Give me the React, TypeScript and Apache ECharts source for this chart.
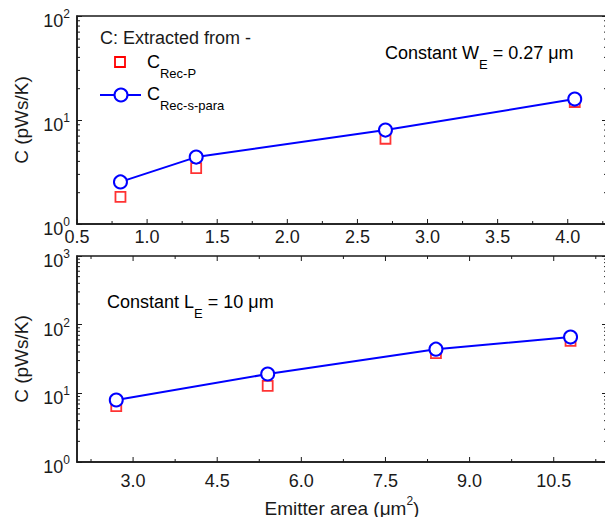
import React, { useEffect, useRef } from "react";
import * as echarts from "echarts";

// ---- data ----
const topArea = [0.81, 1.35, 2.7, 4.05];
const topRecP = [1.82, 3.45, 6.6, 14.9];
const topRecSPara = [2.54, 4.4, 8.0, 15.9];

const botArea = [2.7, 5.4, 8.4, 10.8];
const botRecP = [6.5, 12.8, 38.6, 58];
const botRecSPara = [8.0, 19.1, 44, 66];

// ---- tick values ----
const topXMajor = [0.5, 1.0, 1.5, 2.0, 2.5, 3.0, 3.5, 4.0];
const topXMinor = [0.75, 1.25, 1.75, 2.25, 2.75, 3.25, 3.75, 4.25];
const botXMajor = [3.0, 4.5, 6.0, 7.5, 9.0, 10.5];
const botXMinor = [2.25, 3.75, 5.25, 6.75, 8.25, 9.75, 11.25];
const topYMinor = [2, 3, 4, 5, 6, 7, 8, 9, 20, 30, 40, 50, 60, 70, 80, 90];
const botYMinor = [
  2, 3, 4, 5, 6, 7, 8, 9, 20, 30, 40, 50, 60, 70, 80, 90, 200, 300, 400, 500,
  600, 700, 800, 900,
];

const FONT = "'Liberation Sans', Arial, sans-serif";
const INK = "#1a1a1a";
const RED = "#ff0000";
const BLUE = "#0000ff";

const topX = { min: 0.5, max: 4.28 };
const botX = { min: 2.0, max: 11.45 };

const LBL = 18;
const TXT = 18;

const supLabel = (v: number) => `{b|10}{s|${Math.round(Math.log10(v))}}`;
const supRich = {
  b: { fontSize: LBL, fontFamily: FONT, color: INK, lineHeight: 16, padding: [4, 0, 0, 0], verticalAlign: "top" },
  s: { fontSize: 12, fontFamily: FONT, color: INK, lineHeight: 12, verticalAlign: "top" },
};
const subRich = {
  b: { fontSize: TXT, fontFamily: FONT, color: INK, lineHeight: 20, padding: [2, 0, 0, 0], verticalAlign: "top" },
  sub: { fontSize: 13, fontFamily: FONT, color: INK, lineHeight: 13, padding: [16, 0, 0, 0], verticalAlign: "top" },
};

// tick data: [x, y, length, mirror(0/1), orientation(0 = y tick, 1 = x tick)]
const tickData = (xMajor: number[], xMinor: number[], yMinor: number[], xMin: number, mirrorTop: number) => [
  ...xMajor.map((v) => [v, 1, 5, mirrorTop, 1]),
  ...xMinor.map((v) => [v, 1, 3, mirrorTop, 1]),
  ...yMinor.map((v) => [xMin, v, 3, 1, 0]),
];

const tickRender = (params: any, api: any) => {
  const cs = params.coordSys;
  const len = api.value(2);
  const mirror = api.value(3);
  const orient = api.value(4);
  const p = api.coord([api.value(0), api.value(1)]);
  const st = { stroke: INK, lineWidth: 1 };
  const children: any[] = [];
  if (orient === 1) {
    const bottom = cs.y + cs.height;
    children.push({ type: "line", shape: { x1: p[0], y1: bottom, x2: p[0], y2: bottom - len }, style: st });
    if (mirror) children.push({ type: "line", shape: { x1: p[0], y1: cs.y, x2: p[0], y2: cs.y + len }, style: st });
  } else {
    children.push({ type: "line", shape: { x1: cs.x, y1: p[1], x2: cs.x + len, y2: p[1] }, style: st });
    const r = cs.x + cs.width;
    children.push({ type: "line", shape: { x1: r, y1: p[1], x2: r - len, y2: p[1] }, style: st });
  }
  return { type: "group", children };
};

const isMult = (v: number, step: number) => Math.abs(v / step - Math.round(v / step)) < 1e-6;

export default function App() {
  const ref = useRef<HTMLDivElement>(null);
  useEffect(() => {
    if (!ref.current) return;
    const chart = echarts.init(ref.current, null, { renderer: "svg" });
    const axisLine = { show: true, lineStyle: { color: INK, width: 1.5 } };
    const yAxisCommon = (gridIndex: number, min: number, max: number) => ({
      type: "log",
      logBase: 10,
      gridIndex,
      min,
      max,
      axisLine,
      axisTick: { show: true, inside: true, length: 5, lineStyle: { color: INK, width: 1 } },
      splitLine: { show: false },
      minorTick: { show: false },
    });
    const yName = {
      name: "C (pWs/K)",
      nameLocation: "middle",
      nameGap: 46,
      nameTextStyle: { fontSize: 19, fontFamily: FONT, color: INK },
    };
    chart.setOption({
      animation: false,
      backgroundColor: "#ffffff",
      textStyle: { fontFamily: FONT },
      grid: [
        { left: 77, top: 16, width: 530, height: 208, show: true, borderColor: INK, borderWidth: 1.5 },
        { left: 77, top: 256, width: 530, height: 206, show: true, borderColor: INK, borderWidth: 1.5 },
      ],
      xAxis: [
        {
          type: "value",
          gridIndex: 0,
          min: topX.min,
          max: topX.max,
          interval: 0.5,
          axisLine,
          axisTick: { show: false },
          splitLine: { show: false },
          axisLabel: {
            fontSize: LBL,
            fontFamily: FONT,
            color: INK,
            lineHeight: 17,
            margin: 4,
            showMaxLabel: false,
            formatter: (v: number) => (isMult(v, 0.5) ? v.toFixed(1) : ""),
          },
        },
        {
          type: "value",
          gridIndex: 1,
          min: botX.min,
          max: botX.max,
          interval: 0.25,
          axisLine,
          axisTick: { show: false },
          splitLine: { show: false },
          axisLabel: {
            fontSize: LBL,
            fontFamily: FONT,
            color: INK,
            margin: 10,
            showMaxLabel: false,
            formatter: (v: number) => (isMult(v, 1.5) ? v.toFixed(1) : ""),
          },
          name: "Emitter area (μm{s|2})",
          nameLocation: "middle",
          nameGap: 33,
          nameTextStyle: {
            fontSize: 19,
            fontFamily: FONT,
            color: INK,
            lineHeight: 26,
            rich: {
              s: { fontSize: 12, fontFamily: FONT, color: INK, lineHeight: 12, verticalAlign: "top" },
            },
          },
        },
      ],
      yAxis: [
        {
          ...yAxisCommon(0, 1, 100),
          position: "left",
          axisLabel: { margin: 7, formatter: supLabel, rich: supRich },
          ...yName,
        },
        { ...yAxisCommon(0, 1, 100), position: "right", axisLabel: { show: false } },
        {
          ...yAxisCommon(1, 1, 1000),
          position: "left",
          axisLabel: { margin: 7, formatter: supLabel, rich: supRich },
          ...yName,
        },
        { ...yAxisCommon(1, 1, 1000), position: "right", axisLabel: { show: false } },
      ],
      series: [
        {
          type: "custom",
          name: "ticks-top",
          xAxisIndex: 0,
          yAxisIndex: 0,
          silent: true,
          renderItem: tickRender,
          data: tickData(topXMajor, topXMinor, topYMinor, topX.min, 0),
          z: 1,
        },
        {
          type: "custom",
          name: "ticks-bottom",
          xAxisIndex: 1,
          yAxisIndex: 2,
          silent: true,
          renderItem: tickRender,
          data: tickData(botXMajor, botXMinor, botYMinor, botX.min, 1),
          z: 1,
        },
        {
          type: "scatter",
          name: "C Rec-P (top)",
          xAxisIndex: 0,
          yAxisIndex: 0,
          symbol: "rect",
          symbolSize: 10,
          itemStyle: { color: "#ffffff", borderColor: RED, borderWidth: 1.8 },
          data: topArea.map((x, i) => [x, topRecP[i]]),
          z: 2,
        },
        {
          type: "line",
          name: "C Rec-s-para (top)",
          xAxisIndex: 0,
          yAxisIndex: 0,
          symbol: "circle",
          symbolSize: 13,
          showAllSymbol: true,
          lineStyle: { color: BLUE, width: 2 },
          itemStyle: { color: "#ffffff", borderColor: BLUE, borderWidth: 2 },
          data: topArea.map((x, i) => [x, topRecSPara[i]]),
          z: 3,
        },
        {
          type: "scatter",
          name: "C Rec-P (bottom)",
          xAxisIndex: 1,
          yAxisIndex: 2,
          symbol: "rect",
          symbolSize: 10,
          itemStyle: { color: "#ffffff", borderColor: RED, borderWidth: 1.8 },
          data: botArea.map((x, i) => [x, botRecP[i]]),
          z: 2,
        },
        {
          type: "line",
          name: "C Rec-s-para (bottom)",
          xAxisIndex: 1,
          yAxisIndex: 2,
          symbol: "circle",
          symbolSize: 13,
          showAllSymbol: true,
          lineStyle: { color: BLUE, width: 2 },
          itemStyle: { color: "#ffffff", borderColor: BLUE, borderWidth: 2 },
          data: botArea.map((x, i) => [x, botRecSPara[i]]),
          z: 3,
        },
      ],
      graphic: [
        {
          type: "text",
          x: 100,
          y: 38,
          style: { text: "C: Extracted from -", fontSize: TXT, fontFamily: FONT, fill: INK, verticalAlign: "middle" },
        },
        {
          type: "rect",
          shape: { x: 115, y: 57, width: 10, height: 10 },
          style: { fill: "#ffffff", stroke: RED, lineWidth: 1.8 },
        },
        {
          type: "text",
          x: 147,
          y: 51,
          style: { text: "{b|C}{sub|Rec-P}", rich: subRich },
        },
        {
          type: "line",
          shape: { x1: 100, y1: 95, x2: 141, y2: 95 },
          style: { stroke: BLUE, lineWidth: 2 },
        },
        {
          type: "circle",
          shape: { cx: 121, cy: 95, r: 6.5 },
          style: { fill: "#ffffff", stroke: BLUE, lineWidth: 2 },
        },
        {
          type: "text",
          x: 147,
          y: 83,
          style: { text: "{b|C}{sub|Rec-s-para}", rich: subRich },
        },
        {
          type: "text",
          x: 385,
          y: 42,
          style: { text: "{b|Constant W}{sub|E}{b| = 0.27 μm}", rich: subRich },
        },
        {
          type: "text",
          x: 107,
          y: 291,
          style: { text: "{b|Constant L}{sub|E}{b| = 10 μm}", rich: subRich },
        },
      ],
    });
    return () => chart.dispose();
  }, []);
  return <div ref={ref} style={{ width: 613, height: 525, margin: -8 }} />;
}
